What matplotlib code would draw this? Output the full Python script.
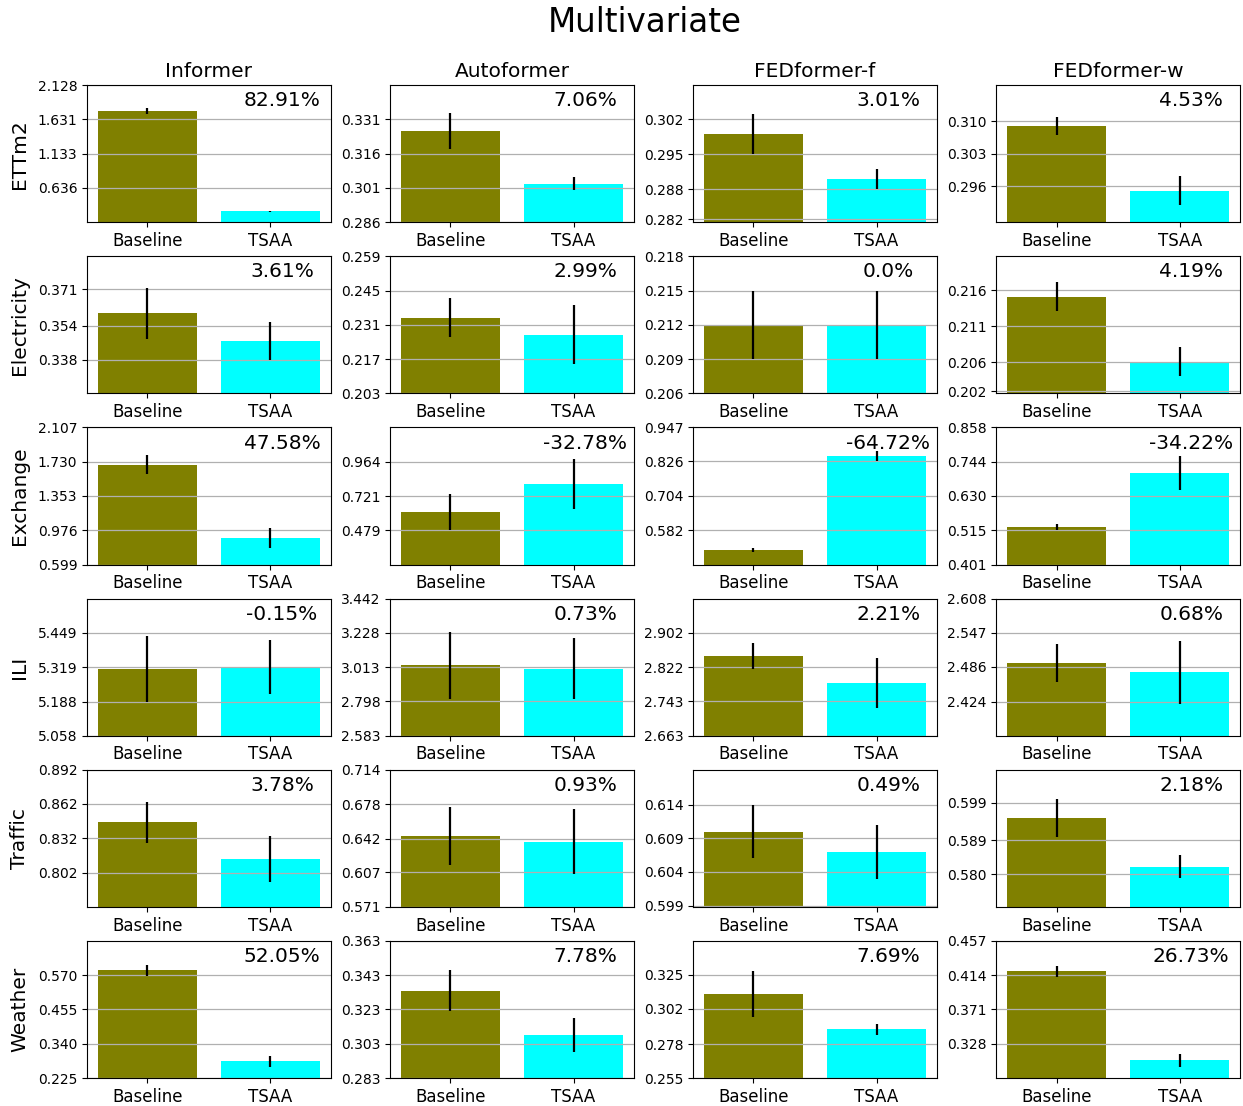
import numpy as np
import matplotlib
matplotlib.use("Agg")
import matplotlib.pyplot as plt

# Forecasting models (columns) and datasets (rows)
models = ["Informer", "Autoformer", "FEDformer-f", "FEDformer-w"]
datasets = ["ETTm2", "Electricity", "Exchange", "ILI", "Traffic", "Weather"]
methods = ["Baseline", "TSAA"]

# Mean error of the baseline model, per dataset (rows) and model (columns)
baseline_mean = [
    [1.752, 0.3258, 0.2990, 0.3090],
    [0.3599, 0.2339, 0.2120, 0.2151],
    [1.694, 0.607, 0.5130, 0.526],
    [5.312, 3.023, 2.8485, 2.4938],
    [0.846, 0.645, 0.6100, 0.595],
    [0.5857, 0.334, 0.312, 0.419],
]
baseline_std = [
    [0.040, 0.0079, 0.0040, 0.0020],
    [0.0120, 0.0079, 0.0030, 0.0020],
    [0.105, 0.128, 0.0065, 0.0085],
    [0.127, 0.208, 0.031, 0.034],
    [0.0178, 0.030, 0.0040, 0.0050],
    [0.018, 0.0118, 0.0157, 0.0070],
]

# Mean error with TSAA
tsaa_mean = [
    [0.2994, 0.3028, 0.2900, 0.2950],
    [0.3469, 0.2269, 0.2120, 0.2061],
    [0.888, 0.806, 0.8450, 0.706],
    [5.320, 3.001, 2.7855, 2.4768],
    [0.814, 0.639, 0.6070, 0.582],
    [0.2808, 0.308, 0.288, 0.307],
]
tsaa_std = [
    [0.006, 0.0028, 0.0020, 0.0031],
    [0.0089, 0.0120, 0.0030, 0.0020],
    [0.112, 0.177, 0.0166, 0.058],
    [0.104, 0.191, 0.059, 0.056],
    [0.0200, 0.034, 0.0040, 0.0030],
    [0.019, 0.0100, 0.0038, 0.0078],
]

# Relative improvement of TSAA over the baseline (%)
improvement = [
    [82.91, 7.06, 3.01, 4.53],
    [3.61, 2.99, 0.0, 4.19],
    [47.58, -32.78, -64.72, -34.22],
    [-0.15, 0.73, 2.21, 0.68],
    [3.78, 0.93, 0.49, 2.18],
    [52.05, 7.78, 7.69, 26.73],
]

# Value range shown on each y axis
y_limits = [
    [(0.1385, 2.128), (0.286, 0.346), (0.2814, 0.3088), (0.2882, 0.3178)],
    [(0.3222, 0.3866), (0.203, 0.259), (0.206, 0.218), (0.2017, 0.2207)],
    [(0.599, 2.107), (0.2365, 1.2065), (0.4603, 0.947), (0.401, 0.858)],
    [(5.058, 5.580), (2.583, 3.442), (2.663, 2.982), (2.3635, 2.608)],
    [(0.772, 0.892), (0.571, 0.714), (0.5988, 0.6192), (0.5714, 0.6077)],
    [(0.225, 0.685), (0.283, 0.363), (0.255, 0.348), (0.285, 0.457)],
]
# Labelled y ticks of each panel
y_ticks = [
    [[0.636, 1.133, 1.631, 2.128], [0.286, 0.301, 0.316, 0.331],
     [0.282, 0.288, 0.295, 0.302], [0.296, 0.303, 0.310]],
    [[0.338, 0.354, 0.371], [0.203, 0.217, 0.231, 0.245, 0.259],
     [0.206, 0.209, 0.212, 0.215, 0.218], [0.202, 0.206, 0.211, 0.216]],
    [[0.599, 0.976, 1.353, 1.730, 2.107], [0.479, 0.721, 0.964],
     [0.582, 0.704, 0.826, 0.947], [0.401, 0.515, 0.630, 0.744, 0.858]],
    [[5.058, 5.188, 5.319, 5.449], [2.583, 2.798, 3.013, 3.228, 3.442],
     [2.663, 2.743, 2.822, 2.902], [2.424, 2.486, 2.547, 2.608]],
    [[0.802, 0.832, 0.862, 0.892], [0.571, 0.607, 0.642, 0.678, 0.714],
     [0.599, 0.604, 0.609, 0.614], [0.580, 0.589, 0.599]],
    [[0.225, 0.340, 0.455, 0.570], [0.283, 0.303, 0.323, 0.343, 0.363],
     [0.255, 0.278, 0.302, 0.325], [0.328, 0.371, 0.414, 0.457]],
]

bar_colors = ["olive", "cyan"]

fig, axes = plt.subplots(len(datasets), len(models), figsize=(12.43, 11.06), dpi=100)
fig.subplots_adjust(left=0.070, right=0.9976, top=0.9231, bottom=0.0253,
                    wspace=0.243, hspace=0.248)
fig.suptitle("Multivariate", fontsize=23.5, x=0.519, y=0.980, va="center")

x = np.arange(len(methods))
for r, ds in enumerate(datasets):
    for c, model in enumerate(models):
        ax = axes[r, c]
        means = [baseline_mean[r][c], tsaa_mean[r][c]]
        stds = [baseline_std[r][c], tsaa_std[r][c]]
        ax.bar(x, means, yerr=stds, color=bar_colors, width=0.8,
               error_kw=dict(ecolor="black", elinewidth=1.6, capsize=0))
        ax.set_xticks(x)
        ax.set_xticklabels(methods, fontsize=12)
        ax.set_ylim(*y_limits[r][c])
        ax.set_yticks(y_ticks[r][c])
        ax.set_yticklabels([f"{t:.3f}" for t in y_ticks[r][c]], fontsize=10)
        ax.yaxis.grid(True, color="#b0b0b0", linewidth=0.9)
        ax.text(0.8, 0.885, f"{improvement[r][c]}%", transform=ax.transAxes,
                ha="center", va="center", fontsize=14.5)
        if r == 0:
            ax.set_title(model, fontsize=14.5, pad=6)
        if c == 0:
            ax.set_ylabel(ds, fontsize=14.5, labelpad=6)

fig.savefig("out.png", dpi=100)
